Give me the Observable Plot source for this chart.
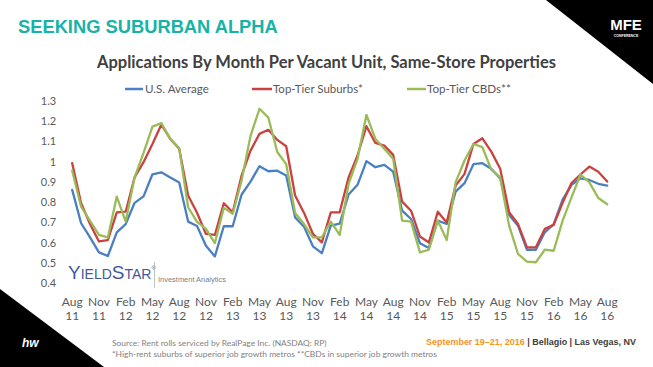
<!DOCTYPE html>
<html>
<head>
<meta charset="utf-8">
<script src="https://cdn.jsdelivr.net/npm/d3@7"></script>
<script src="https://cdn.jsdelivr.net/npm/@observablehq/plot@0.6"></script>
<style>
  html, body { margin: 0; padding: 0; background: #fff; }
  #wrap { position: relative; width: 653px; height: 367px; overflow: hidden; background: #fff; }
  #wrap svg { position: absolute; left: 0; top: 0; }
</style>
</head>
<body>
<div id="wrap"></div>
<script>
// ---------- DATA ----------
const seriesNames = ["U.S. Average", "Top-Tier Suburbs*", "Top-Tier CBDs**"];
const seriesColors = ["#4a7fc1", "#c9423f", "#9bbb59"];

// monthly, Aug 2011 .. Aug 2016 (61 months)
const usAverage = [
  0.863, 0.698, 0.628, 0.554, 0.536, 0.653, 0.694, 0.799, 0.831, 0.940, 0.950, 0.924,
  0.900, 0.706, 0.684, 0.587, 0.534, 0.683, 0.683, 0.840, 0.904, 0.980, 0.955, 0.958,
  0.934, 0.727, 0.681, 0.584, 0.550, 0.686, 0.696, 0.840, 0.888, 1.005, 0.975, 0.987,
  0.953, 0.760, 0.719, 0.599, 0.576, 0.711, 0.694, 0.854, 0.896, 0.990, 0.995, 0.967,
  0.920, 0.739, 0.686, 0.567, 0.567, 0.653, 0.694, 0.815, 0.888, 0.920, 0.912, 0.893,
  0.884
];
const topTierSuburbs = [
  0.995, 0.797, 0.694, 0.608, 0.615, 0.752, 0.755, 0.925, 1.000, 1.090, 1.186, 1.115,
  1.066, 0.835, 0.750, 0.645, 0.640, 0.797, 0.752, 0.934, 1.057, 1.140, 1.160, 1.110,
  1.079, 0.835, 0.749, 0.645, 0.603, 0.752, 0.752, 0.925, 1.033, 1.178, 1.095, 1.082,
  1.036, 0.805, 0.760, 0.632, 0.603, 0.755, 0.702, 0.884, 0.942, 1.090, 1.118, 1.052,
  0.967, 0.752, 0.694, 0.579, 0.579, 0.670, 0.690, 0.799, 0.897, 0.939, 0.978, 0.953,
  0.904
];
const topTierCBDs = [
  0.958, 0.780, 0.710, 0.640, 0.628, 0.830, 0.706, 0.925, 1.046, 1.176, 1.193, 1.115,
  1.070, 0.777, 0.705, 0.670, 0.600, 0.774, 0.745, 0.910, 1.130, 1.264, 1.220, 1.050,
  0.990, 0.749, 0.694, 0.628, 0.628, 0.706, 0.640, 0.893, 1.016, 1.234, 1.115, 1.066,
  1.016, 0.711, 0.706, 0.554, 0.567, 0.711, 0.615, 0.900, 1.008, 1.090, 1.074, 0.963,
  0.925, 0.686, 0.546, 0.508, 0.505, 0.567, 0.562, 0.711, 0.826, 0.939, 0.900, 0.823,
  0.792
];

const xTickLabels = [
  "Aug\n11", "Nov\n11", "Feb\n12", "May\n12", "Aug\n12", "Nov\n12", "Feb\n13",
  "May\n13", "Aug\n13", "Nov\n13", "Feb\n14", "May\n14", "Aug\n14", "Nov\n14",
  "Feb\n15", "May\n15", "Aug\n15", "Nov\n15", "Feb\n16", "May\n16", "Aug\n16"
];
const yTicks = [0.4, 0.5, 0.6, 0.7, 0.8, 0.9, 1.0, 1.1, 1.2, 1.3];

// ---------- BUILD ----------
const allSeries = [usAverage, topTierSuburbs, topTierCBDs];
const rows = [];
allSeries.forEach((vals, k) => vals.forEach((v, i) => rows.push({ month: i, value: v, series: seriesNames[k] })));
const xTickPos = xTickLabels.map((_, i) => i * 3);

const W = 653, H = 367;
const wrap = d3.select("#wrap");

// Background decoration layer
const bg = wrap.append("svg").attr("width", W).attr("height", H);
bg.append("polygon").attr("points", "546,0 653,0 653,84").attr("fill", "#000");
bg.append("polygon").attr("points", "0,289 104,367 0,367").attr("fill", "#000");

const chart = Plot.plot({
  width: W,
  height: H,
  marginLeft: 71.7,
  marginRight: 46.3,
  marginTop: 101,
  marginBottom: 84,
  style: { background: "transparent", fontFamily: "Lato, 'Open Sans', sans-serif" },
  x: { domain: [0, 60], label: null },
  y: { domain: [0.4, 1.3], label: null },
  color: { domain: seriesNames, range: seriesColors },
  marks: [
    Plot.axisY(yTicks, {
      tickSize: 0, tickPadding: 16, fontSize: 11, fill: "#595959",
      tickFormat: d => String(+d.toFixed(1))
    }),
    Plot.axisX(xTickPos, {
      tickSize: 0, tickPadding: 12.5, fontSize: 12, lineHeight: 1.17, fill: "#595959",
      tickFormat: d => xTickLabels[Math.round(d / 3)]
    }),
    Plot.line(rows, { x: "month", y: "value", z: "series", stroke: "series", strokeWidth: 2.3, strokeLinejoin: "round" })
  ]
});
wrap.node().appendChild(chart);

// Foreground text layer
const fg = wrap.append("svg").attr("width", W).attr("height", H);
function fit(sel, target) {
  const w = sel.node().getComputedTextLength();
  const fs = parseFloat(sel.attr("font-size"));
  if (w > 0) sel.attr("font-size", fs * target / w);
  return sel;
}

// header
fit(fg.append("text").attr("x", 18).attr("y", 33).attr("font-family", "'Liberation Sans', Arial, sans-serif")
  .attr("font-weight", 700).attr("font-size", 17).attr("fill", "#16b3a6").text("SEEKING SUBURBAN ALPHA"), 260);

// MFE logo
fg.append("text").attr("x", 626).attr("y", 30).attr("text-anchor", "middle").attr("font-family", "'Liberation Sans Narrow', 'Liberation Sans', sans-serif")
  .attr("font-weight", 700).attr("font-size", 15).attr("fill", "#fff").text("MFE");
fg.append("text").attr("x", 626).attr("y", 37).attr("text-anchor", "middle").attr("font-family", "'Liberation Sans', sans-serif")
  .attr("font-weight", 700).attr("font-size", 3.5).attr("fill", "#fff").text("CONFERENCE");

// title
const title = fg.append("text").attr("x", 326.5).attr("y", 68).attr("text-anchor", "middle")
  .attr("font-family", "Lato, sans-serif").attr("font-weight", 700).attr("font-size", 18).attr("fill", "#404040")
  .text("Applications By Month Per Vacant Unit, Same-Store Properties");
fit(title, 459);

// legend
const legendItems = [
  { x0: 125, x1: 143, tx: 145, w: 64 },
  { x0: 252, x1: 272, tx: 273, w: 90 },
  { x0: 407, x1: 426, tx: 427, w: 84 }
];
legendItems.forEach((it, k) => {
  fg.append("line").attr("x1", it.x0).attr("x2", it.x1).attr("y1", 89).attr("y2", 89)
    .attr("stroke", seriesColors[k]).attr("stroke-width", 2.5);
  fit(fg.append("text").attr("x", it.tx).attr("y", 93).attr("font-family", "Lato, sans-serif")
    .attr("font-size", 12).attr("fill", "#595959").text(seriesNames[k]), it.w);
});

// YieldStar logo
const ys = fg.append("text").attr("x", 68).attr("y", 279).attr("font-family", "'Liberation Sans', Arial, sans-serif")
  .attr("fill", "#41599a").attr("font-size", 19);
ys.append("tspan").attr("font-size", 19).text("Y");
ys.append("tspan").attr("font-size", 14).text("IELD");
ys.append("tspan").attr("font-size", 19).text("S");
ys.append("tspan").attr("font-size", 14).text("TAR");
ys.append("tspan").attr("font-size", 6).attr("dy", -9).text("®");
fg.append("line").attr("x1", 154.5).attr("x2", 154.5).attr("y1", 262).attr("y2", 288).attr("stroke", "#b0b0b0").attr("stroke-width", 0.8);
fit(fg.append("text").attr("x", 158).attr("y", 281.5).attr("font-family", "'Liberation Sans', Arial, sans-serif")
  .attr("font-size", 8).attr("fill", "#808080").text("Investment Analytics"), 68);

// hw logo
fg.append("text").attr("x", 22).attr("y", 347).attr("font-family", "'Liberation Sans', Arial, sans-serif")
  .attr("font-weight", 700).attr("font-style", "italic").attr("font-size", 12).attr("fill", "#fff").text("hw");

// footer
fit(fg.append("text").attr("x", 112).attr("y", 346).attr("font-family", "Lato, sans-serif")
  .attr("font-size", 8.5).attr("fill", "#7f7f7f").text("Source:  Rent rolls serviced by RealPage Inc. (NASDAQ:  RP)"), 215);
fit(fg.append("text").attr("x", 112).attr("y", 356.5).attr("font-family", "Lato, sans-serif")
  .attr("font-size", 8.5).attr("fill", "#7f7f7f").text("*High-rent suburbs of superior job growth metros  **CBDs in superior job growth metros"), 325);

const ev = fg.append("text").attr("x", 426).attr("y", 345).attr("font-family", "'Liberation Sans', Arial, sans-serif")
  .attr("font-weight", 700).attr("font-size", 10);
ev.append("tspan").attr("fill", "#f7941d").text("September 19\u201321, 2016");
ev.append("tspan").attr("fill", "#404040").text(" | Bellagio | Las Vegas, NV");
fit(ev, 210);
</script>
</body>
</html>
